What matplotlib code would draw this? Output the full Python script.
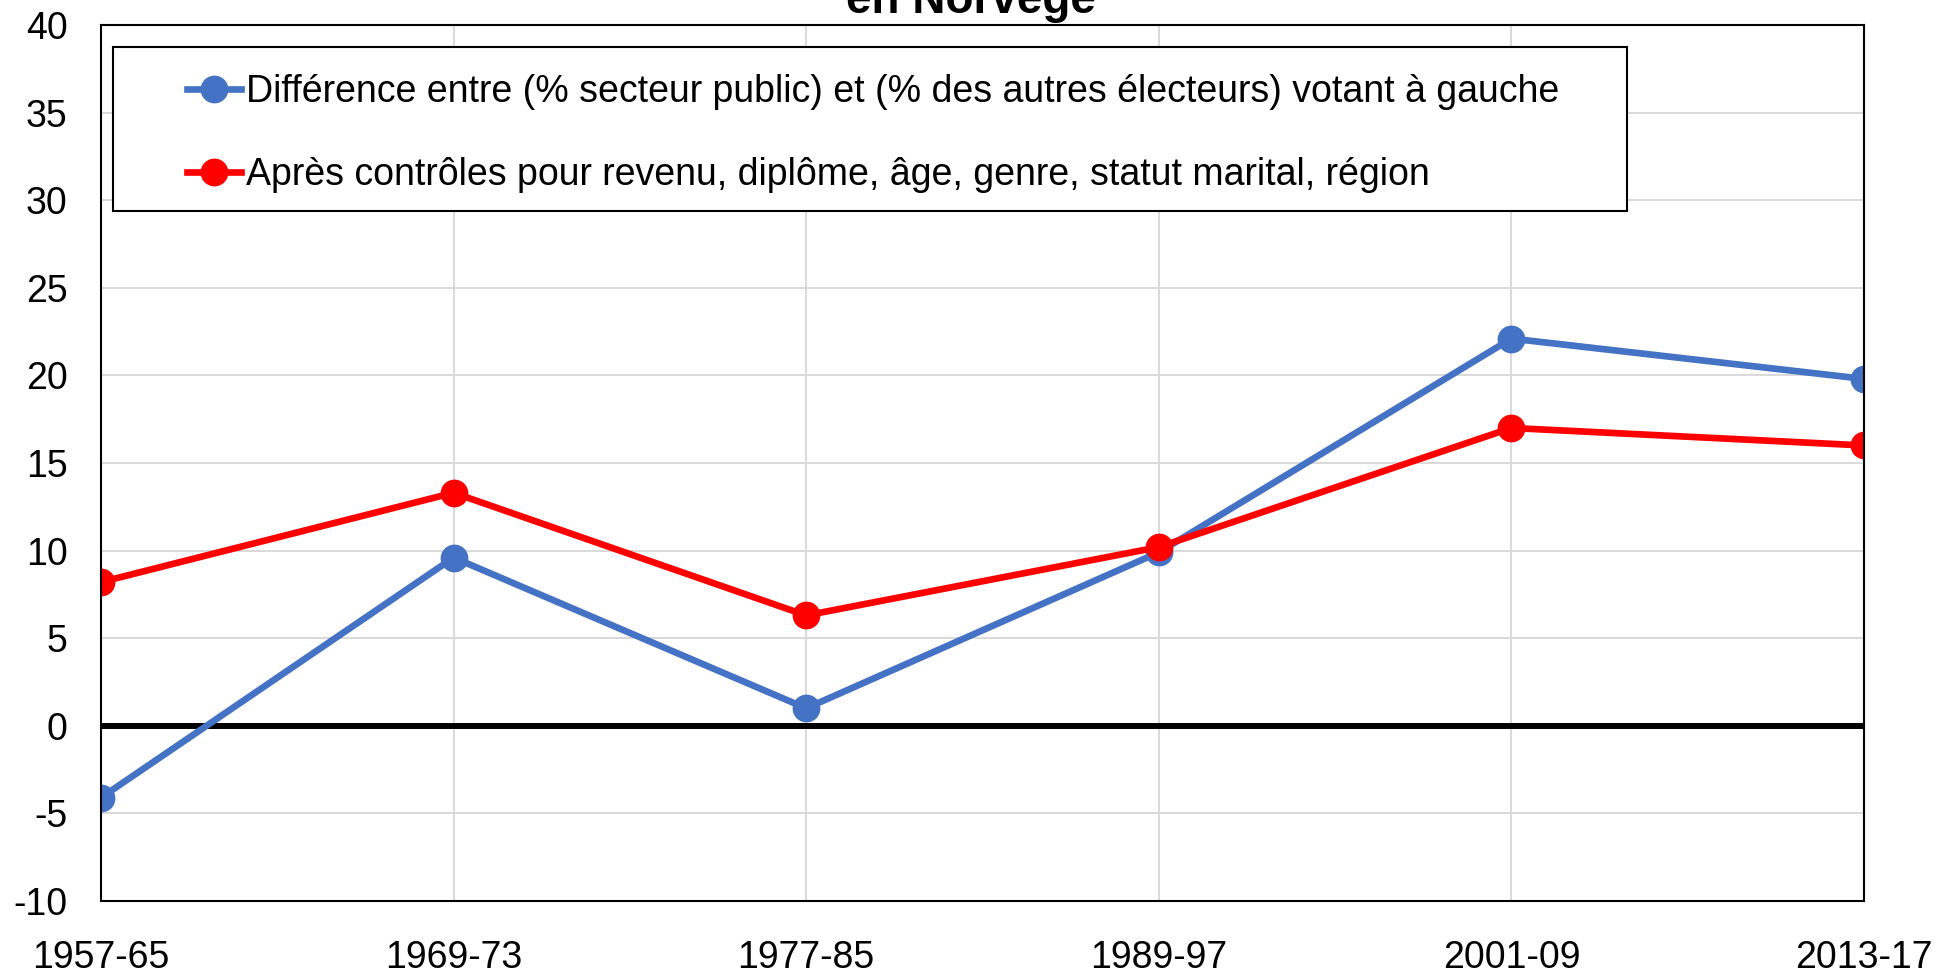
import matplotlib
matplotlib.use("Agg")
import matplotlib.pyplot as plt
from matplotlib.patches import Rectangle
import numpy as np

plt.rcParams["font.family"] = ["Liberation Sans", "DejaVu Sans"]
plt.rcParams["axes.unicode_minus"] = False

periods = ["1957-65", "1969-73", "1977-85", "1989-97", "2001-09", "2013-17"]
raw_gap = [-4.1, 9.6, 1.0, 9.9, 22.1, 19.8]
controlled_gap = [8.2, 13.3, 6.3, 10.2, 17.0, 16.0]

label_raw = "Différence entre (% secteur public) et (% des autres électeurs) votant à gauche"
label_ctrl = "Après contrôles pour revenu, diplôme, âge, genre, statut marital, région"

fig = plt.figure(figsize=(19.53, 9.73), dpi=100)
ax = fig.add_axes([101 / 1953, 1 - 901 / 973, 1763 / 1953, 876 / 973])

x = np.arange(len(periods))
ax.plot(x, raw_gap, color="#4472C4", lw=4.8, marker="o", ms=19, label=label_raw, zorder=4)
ax.plot(x, controlled_gap, color="#FF0000", lw=4.8, marker="o", ms=19, label=label_ctrl, zorder=5)
ax.axhline(0, color="black", lw=4.3, zorder=3)

ax.set_xlim(0, len(periods) - 1)
ax.set_ylim(-10, 40)
ax.set_yticks(np.arange(-10, 41, 5))
ax.set_xticks(x)
ax.set_xticklabels(periods)
ax.grid(True, color="#D9D9D9", lw=1.4, zorder=0)
ax.tick_params(axis="both", length=0, labelsize=27)
ax.tick_params(axis="x", pad=28)
ax.tick_params(axis="y", pad=24)
for s in ax.spines.values():
    s.set_linewidth(1.5)
    s.set_color("black")
    s.set_zorder(6)

# legend frame drawn on its own, entries are indented inside it
ax.add_patch(Rectangle((0.0068, 0.788), 0.859, 0.187, transform=ax.transAxes,
                       facecolor="white", edgecolor="black", lw=1.5, zorder=7))
leg = ax.legend(loc="center left", bbox_to_anchor=(0.0488, 0.876),
                fontsize=27, frameon=False, handlelength=1.43, handletextpad=0.13,
                borderpad=0, labelspacing=1.25, borderaxespad=0)
leg.set_zorder(8)

# title is cut at the top of the reference image; only its last line shows
fig.text(971 / 1953, 1 - 13 / 973, "en Norvège", ha="center", va="baseline",
         fontsize=33, fontweight="bold")

fig.savefig("out.png", dpi=100)
